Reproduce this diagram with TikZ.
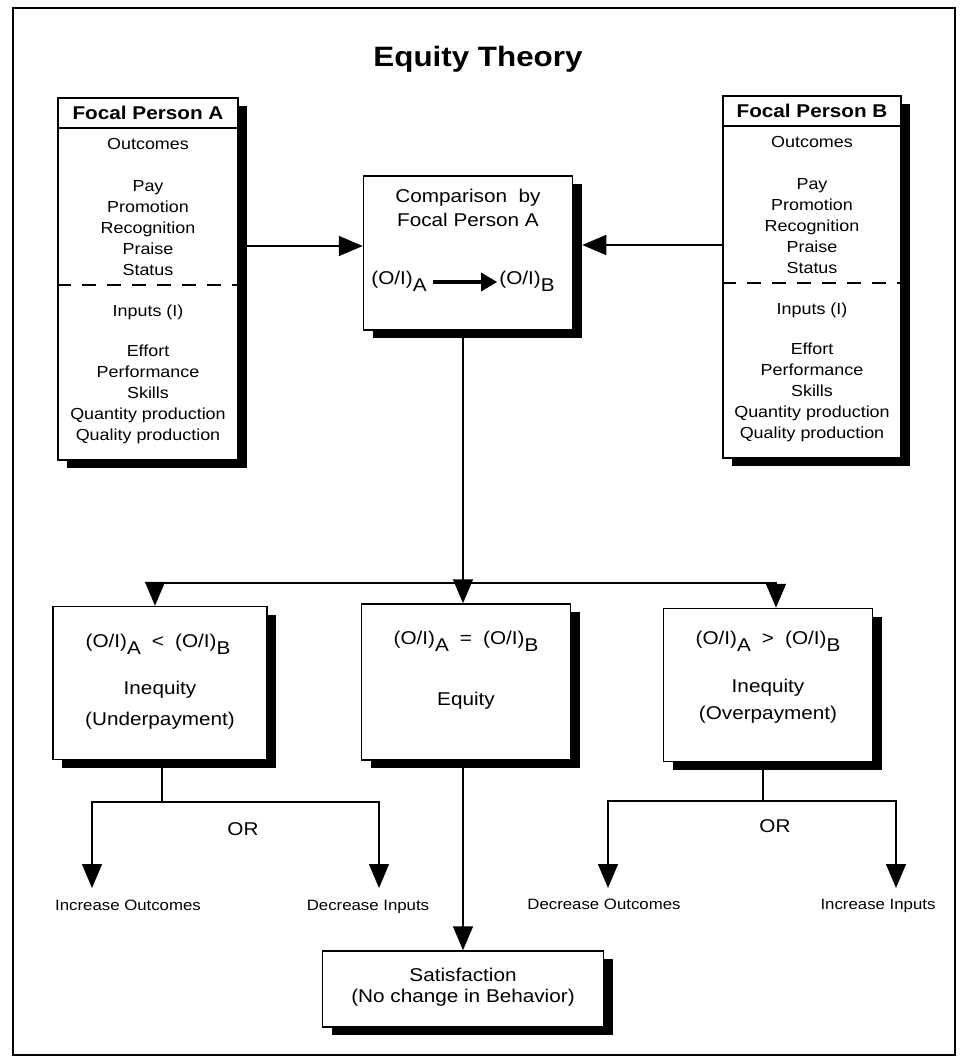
\documentclass[tikz,border=0pt]{standalone}
\usepackage{fontspec}
\setmainfont[FakeStretch=1.12]{Liberation Sans}
\usetikzlibrary{arrows.meta,shadows}

\newcommand{\oi}[1]{(O/I)\raisebox{-0.35em}{#1}}

\tikzset{
  boxed/.style={draw, line width=1.5pt, fill=white,
    drop shadow={shadow xshift=9pt, shadow yshift=-8pt, fill=black, opacity=1}},
  item/.style={font=\fontsize{16}{19}\selectfont, anchor=mid, inner sep=0pt},
  head/.style={font=\bfseries\fontsize{18.5}{22}\selectfont, anchor=mid, inner sep=0pt},
  big/.style={font=\fontsize{18.5}{22}\selectfont, anchor=mid, inner sep=0pt},
  small/.style={font=\fontsize{15}{18}\selectfont, anchor=mid, inner sep=0pt},
  flow/.style={-{Triangle[length=24pt,width=20pt]}, line width=1.5pt},
}

\begin{document}
\begin{tikzpicture}[x=1pt,y=-1pt]
\useasboundingbox (0,0) rectangle (959,1060);

% Frame
\draw[line width=1.2pt] (13,1055) -- (13,8) -- (955,8) -- (955,1055);
\draw[line width=2.5pt] (12,1055) -- (956,1055);

% Title
\node[font=\bfseries\fontsize{28}{34}\selectfont, anchor=mid] (title) at (478,64) {Equity Theory};

% Focal persons
\node[boxed, minimum width=180pt, minimum height=362pt] (boxA) at (148,279) {};
\node[boxed, minimum width=178pt, minimum height=362pt] (boxB) at (812,277) {};

\foreach \bx/\nm/\cx/\dy in {boxA/A/148/0, boxB/B/812/-2}{
  \node[head] (\nm-hd) at (\cx,117+\dy) {Focal Person \nm};
  \draw[line width=1.4pt] (\bx.west |- 0,128+\dy) -- (\bx.east |- 0,128+\dy);
  \node[item] (\nm-out) at (\cx,147+\dy) {Outcomes};
  \foreach \txt [count=\i] in {Pay,Promotion,Recognition,Praise,Status}
    \node[item] (\nm-o\i) at (\cx,168+21*\i+\dy) {\txt};
  \draw[line width=1.8pt, dash pattern=on 14pt off 11pt]
    (\bx.west |- 0,285+\dy) -- (\bx.east |- 0,285+\dy);
  \node[item] (\nm-in) at (\cx,314+\dy) {Inputs (I)};
  \foreach \txt [count=\i] in {Effort,Performance,Skills,Quantity production,Quality production}
    \node[item] (\nm-i\i) at (\cx,333+21*\i+\dy) {\txt};
}

% Comparison
\node[boxed, minimum width=209pt, minimum height=154pt] (cmp) at (468,253) {};
\node[big] (cmp1) at (468,200) {Comparison\ \ by};
\node[big] (cmp2) at (468,224) {Focal Person A};
\node[big] (oiA) at (399,282) {\oi{A}};
\node[big] (oiB) at (527,282) {\oi{B}};
\draw[line width=3.2pt, -{Triangle[length=16pt,width=18pt]}, shorten <=6pt, shorten >=2pt]
  (oiA.mid east) -- (oiB.mid west);

\coordinate (inA) at ([yshift=7pt]cmp.west);
\coordinate (inB) at ([xshift=9pt,yshift=8pt]cmp.east);
\draw[flow] (inA -| boxA.east) -- (inA);
\draw[flow] (inB -| boxB.west) -- (inB);

% Outcomes of the comparison
\node[boxed, minimum width=214pt, minimum height=153pt] (under) at (160,683) {};
\node[boxed, minimum width=209pt, minimum height=156pt] (eq) at (466,682) {};
\node[boxed, minimum width=209pt, minimum height=153pt] (over) at (768,685) {};

\node[big] (underF) at (158,645) {\oi{A}\hspace{0.6em}<\hspace{0.6em}\oi{B}};
\node[big] (underT1) at (160,692) {Inequity};
\node[big] (underT2) at (160,723) {(Underpayment)};
\node[big] (eqF) at (466,642) {\oi{A}\hspace{0.6em}=\hspace{0.6em}\oi{B}};
\node[big] (eqT) at (466,703) {Equity};
\node[big] (overF) at (768,642) {\oi{A}\hspace{0.6em}>\hspace{0.6em}\oi{B}};
\node[big] (overT1) at (768,690) {Inequity};
\node[big] (overT2) at (768,717) {(Overpayment)};

\coordinate (fork) at (463,583);
\draw[line width=1.5pt] (cmp.south -| fork) -- (fork);
\draw[flow] (fork) -| ([xshift=-5pt]under.north);
\draw[flow] (fork) -- (fork |- eq.north);
\draw[flow] (fork) -| ([xshift=8pt]over.north);

% Underpayment reactions
\coordinate (splitU) at (162,802);
\coordinate (endU1) at (92,888);
\coordinate (endU2) at (379,888);
\draw[line width=1.5pt] (under.south -| splitU) -- (splitU);
\draw[flow] (splitU) -| (endU1);
\draw[flow] (splitU) -| (endU2);
\node[big] (orU) at (243,833) {OR};
\node[small] (incO) at (128,908) {Increase Outcomes};
\node[small] (decI) at (368,908) {Decrease Inputs};

% Overpayment reactions
\coordinate (splitO) at (763,801);
\coordinate (endO1) at (608,888);
\coordinate (endO2) at (896,888);
\draw[line width=1.5pt] (over.south -| splitO) -- (splitO);
\draw[flow] (splitO) -| (endO1);
\draw[flow] (splitO) -| (endO2);
\node[big] (orO) at (775,830) {OR};
\node[small] (decO) at (604,907) {Decrease Outcomes};
\node[small] (incI) at (878,907) {Increase Inputs};

% Satisfaction
\node[boxed, minimum width=281pt, minimum height=76pt] (sat) at (463,989) {};
\node[big] (sat1) at (463,979) {Satisfaction};
\node[big] (sat2) at (463,1000) {(No change in Behavior)};
\draw[flow] (eq.south -| sat.north) -- (sat.north);
\end{tikzpicture}
\end{document}
